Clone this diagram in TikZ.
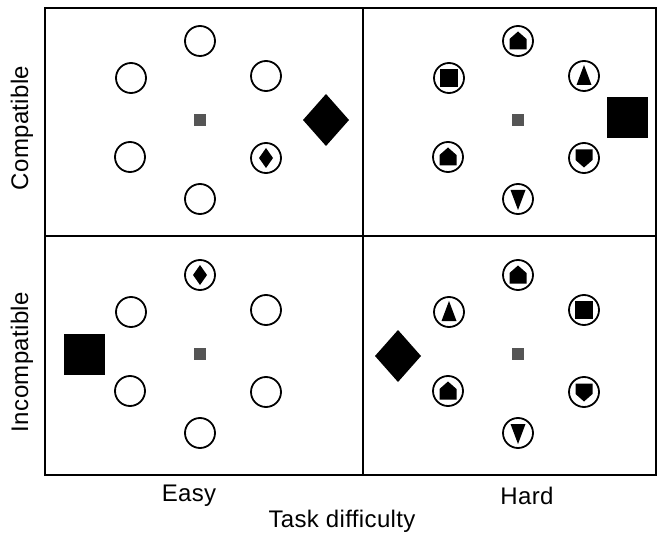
\documentclass[tikz,border=0pt]{standalone}
\usepackage{fontspec}
\setmainfont{Liberation Sans}
\usepackage{tikz}
\usetikzlibrary{positioning}
\definecolor{dotgray}{RGB}{85,85,85}
\tikzset{
  ring/.style={circle, draw, line width=1.8pt, minimum size=30pt, inner sep=0pt},
  fixdot/.style={fill=dotgray, minimum size=12pt, inner sep=0pt},
  axislabel/.style={font=\fontsize{24}{28}\selectfont\addfontfeature{LetterSpace=1.5}},
  pics/houseup/.style={code={\fill (-8.5,8.5) -- (-8.5,-2) -- (0,-9.5) -- (8.5,-2) -- (8.5,8.5) -- cycle;}},
  pics/housedown/.style={code={\fill (-8.5,-8.5) -- (-8.5,2) -- (0,9.5) -- (8.5,2) -- (8.5,-8.5) -- cycle;}},
  pics/triup/.style={code={\fill (0,-11) -- (7.5,9) -- (-7.5,9) -- cycle;}},
  pics/tridown/.style={code={\fill (0,11) -- (7.5,-9) -- (-7.5,-9) -- cycle;}},
  pics/sq/.style={code={\fill (-9,-9) rectangle (9,9);}},
  pics/gem/.style={code={\fill (0,-10) -- (7,0) -- (0,10) -- (-7,0) -- cycle;}},
  pics/biggem/.style={code={\fill (0,-26) -- (23,0) -- (0,26) -- (-23,0) -- cycle;}},
  pics/bigsq/.style={code={\fill (-20.5,-20.5) rectangle (20.5,20.5);}}
}

\begin{document}
\begin{tikzpicture}[x=1pt, y=-1pt]
\useasboundingbox (0,0) rectangle (666,537);
% frame and quadrants
\draw[line width=2pt] (45,8) rectangle (656,475);
\draw[line width=1.5pt] (363,8) -- (363,475);
\draw[line width=1.5pt] (45,236) -- (656,236);

% six rings round each fixation point
\foreach \q/\cx/\cy in {tl/200/120, tr/518/120, bl/200/354, br/518/354} {
  \node[fixdot] (\q0) at (\cx,\cy) {};
  \foreach \i/\dx/\dy in {1/0/-79, 2/-69/-42, 3/66/-44, 4/-70/37, 5/66/38, 6/0/79}
    \node[ring] (\q\i) at (\cx+\dx,\cy+\dy) {};
}

% glyphs inside the rings
\pic at (tl5) {gem};
\pic at (bl1) {gem};
\pic at (tr1) {houseup};
\pic at (tr2) {sq};
\pic at (tr3) {triup};
\pic at (tr4) {houseup};
\pic at (tr5) {housedown};
\pic at (tr6) {tridown};
\pic at (br1) {houseup};
\pic at (br2) {triup};
\pic at (br3) {sq};
\pic at (br4) {houseup};
\pic at (br5) {housedown};
\pic at (br6) {tridown};

% large targets
\coordinate (tlbig) at (326,120);
\coordinate (trbig) at (627,118);
\coordinate (blbig) at (84,354);
\coordinate (brbig) at (398,356);
\pic at (tlbig) {biggem};
\pic at (trbig) {bigsq};
\pic at (blbig) {bigsq};
\pic at (brbig) {biggem};

% labels
\node[axislabel] (easy) at (189,496) {Easy};
\node[axislabel] (hard) at (527,496) {Hard};
\node[axislabel] (task) at (342,521) {Task difficulty};
\node[axislabel, rotate=90] (compat) at (22,128) {Compatible};
\node[axislabel, rotate=90] (incompat) at (22,362) {Incompatible};
\end{tikzpicture}
\end{document}
